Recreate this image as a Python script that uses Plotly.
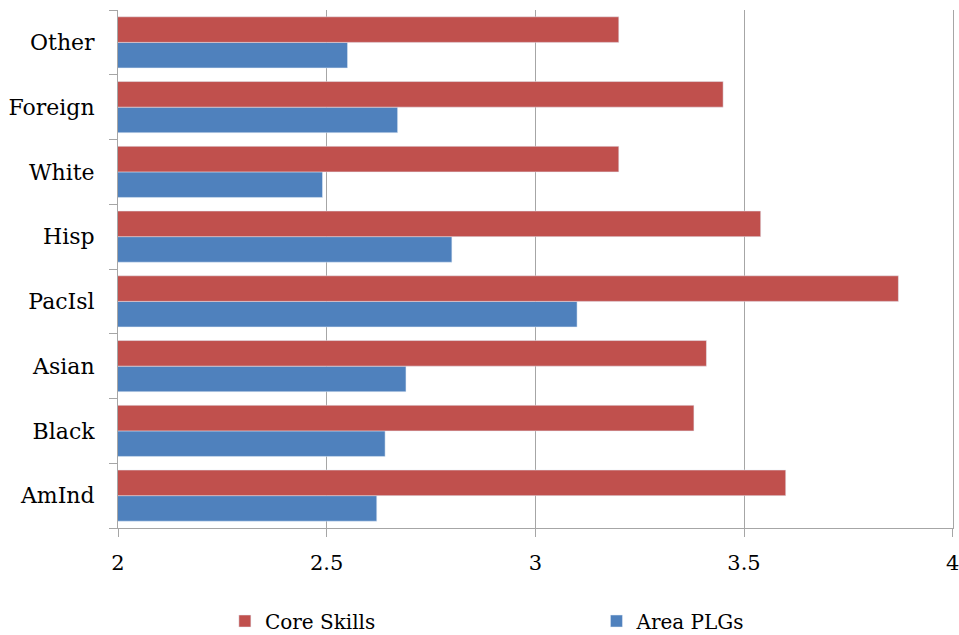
import plotly.graph_objects as go

# Groups, listed bottom to top
groups = ["AmInd", "Black", "Asian", "PacIsl", "Hisp", "White", "Foreign", "Other"]

# Mean scores per group
core_skills = [3.60, 3.38, 3.41, 3.87, 3.54, 3.20, 3.45, 3.20]
area_plgs = [2.62, 2.64, 2.69, 3.10, 2.80, 2.49, 2.67, 2.55]

x_ticks = [2, 2.5, 3, 3.5, 4]
x_tick_text = ["2", "2.5", "3", "3.5", "4"]

RED = "#C0504D"
BLUE = "#4F81BD"
AXIS = "#A6A6A6"
FONT = "DejaVu Serif, Liberation Serif, serif"

fig = go.Figure()
# Area PLGs first so it sits below Core Skills inside each group
fig.add_trace(go.Bar(
    y=groups, x=area_plgs, orientation="h", name="Area PLGs",
    marker=dict(color=BLUE), legend="legend2",
))
fig.add_trace(go.Bar(
    y=groups, x=core_skills, orientation="h", name="Core Skills",
    marker=dict(color=RED), legend="legend",
))

legend_common = dict(
    orientation="h", yref="container", y=0.022, yanchor="middle",
    xanchor="left", font=dict(family=FONT, size=20), itemwidth=30,
    bgcolor="rgba(0,0,0,0)",
)

fig.update_layout(
    width=959, height=635,
    margin=dict(l=118, r=6, t=10, b=107, autoexpand=False),
    paper_bgcolor="white", plot_bgcolor="white",
    barmode="group", bargap=0.21, bargroupgap=0,
    font=dict(family=FONT, color="black"),
    showlegend=True,
    legend=dict(x=0.128, **legend_common),
    legend2=dict(x=0.573, **legend_common),
    xaxis=dict(
        range=[2, 4.0008], tickvals=x_ticks, ticktext=x_tick_text,
        showgrid=True, gridcolor=AXIS, gridwidth=1, zeroline=False,
        showline=True, linecolor=AXIS, linewidth=1,
        ticks="outside", ticklen=8, tickcolor=AXIS,
        tickfont=dict(family=FONT, size=21), ticklabelstandoff=8,
        ticklabeloverflow="allow", automargin=False,
    ),
    yaxis=dict(
        categoryorder="array", categoryarray=groups,
        showgrid=False, zeroline=False,
        showline=True, mirror=True, linecolor=AXIS, linewidth=1,
        ticks="outside", ticklen=8, tickcolor=AXIS, tickson="boundaries",
        tickfont=dict(family=FONT, size=22), ticklabelstandoff=18,
        automargin=False,
    ),
)

fig.write_html("out.html")
